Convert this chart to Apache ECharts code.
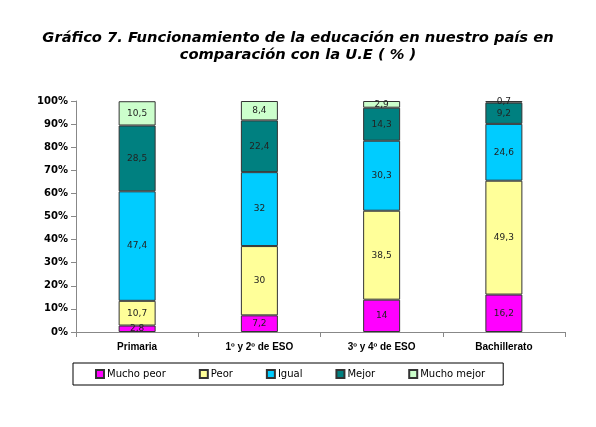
<!DOCTYPE html>
<html>
<head>
<meta charset="utf-8">
<script src="https://cdn.jsdelivr.net/npm/echarts@6/dist/echarts.min.js"></script>
<style>
  html, body { margin: 0; padding: 0; background: #fff; }
  #chart { width: 596px; height: 427px; }
</style>
</head>
<body>
<div id="chart"></div>
<script>
var categories = ['Primaria', '1º y 2º de ESO', '3º y 4º de ESO', 'Bachillerato']
var muchoPeor = [2.8, 7.2, 14, 16.2]
var peor = [10.7, 30, 38.5, 49.3]
var igual = [47.4, 32, 30.3, 24.6]
var mejor = [28.5, 22.4, 14.3, 9.2]
var muchoMejor = [10.5, 8.4, 2.9, 0.7]
var yTicks = [0, 10, 20, 30, 40, 50, 60, 70, 80, 90, 100]

var chart = echarts.init(document.getElementById('chart'))

function makeSeries(name, data, color) {
  return {
    name: name,
    type: 'bar',
    stack: 'total',
    barWidth: 37,
    data: data,
    itemStyle: { color: color, borderColor: '#333', borderWidth: 1 },
    label: {
      show: true,
      position: 'inside',
      color: '#222',
      fontSize: 9,
      fontFamily: 'DejaVu Sans',
      formatter: function(p) {
        return String(p.value).replace('.', ',')
      }
    }
  }
}

var option = {
  animation: false,
  title: {
    text: 'Gráfico 7. Funcionamiento de la educación en nuestro país en\ncomparación con la U.E ( % )',
    left: 'center',
    top: 25,
    textStyle: {
      fontFamily: 'DejaVu Sans',
      fontSize: 14.7,
      fontWeight: 'bold',
      fontStyle: 'italic',
      color: '#000',
      lineHeight: 17
    }
  },
  grid: { left: 76, right: 31, top: 101, bottom: 95 },
  xAxis: {
    type: 'category',
    data: categories,
    axisLine: { lineStyle: { color: '#888' } },
    axisTick: { show: true, lineStyle: { color: '#888' } },
    axisLabel: {
      color: '#000',
      fontSize: 10,
      fontWeight: 'bold',
      fontFamily: 'Liberation Sans Narrow, Liberation Sans',
      margin: 10
    }
  },
  yAxis: {
    type: 'value',
    min: 0,
    max: 100,
    interval: 10,
    splitLine: { show: false },
    axisLine: { show: true, lineStyle: { color: '#888' } },
    axisTick: { show: true, lineStyle: { color: '#888' } },
    axisLabel: {
      color: '#000',
      fontSize: 10,
      fontWeight: 'bold',
      fontFamily: 'DejaVu Sans',
      formatter: function(v) {
        return yTicks.indexOf(v) >= 0 ? v + '%' : ''
      }
    }
  },
  legend: {
    bottom: 42,
    left: 73,
    borderColor: '#000',
    borderWidth: 1,
    padding: [6, 18, 6, 22],
    itemGap: 33,
    itemWidth: 8,
    itemHeight: 8,
    icon: 'rect',
    textStyle: { fontSize: 10, fontFamily: 'DejaVu Sans', color: '#000', padding: [0, 0, 0, -2] },
    data: ['Mucho peor', 'Peor', 'Igual', 'Mejor', 'Mucho mejor']
  },
  series: [
    makeSeries('Mucho peor', muchoPeor, '#FF00FF'),
    makeSeries('Peor', peor, '#FFFF99'),
    makeSeries('Igual', igual, '#00CCFF'),
    makeSeries('Mejor', mejor, '#008080'),
    makeSeries('Mucho mejor', muchoMejor, '#CCFFCC')
  ]
}

chart.setOption(option)
</script>
</body>
</html>
